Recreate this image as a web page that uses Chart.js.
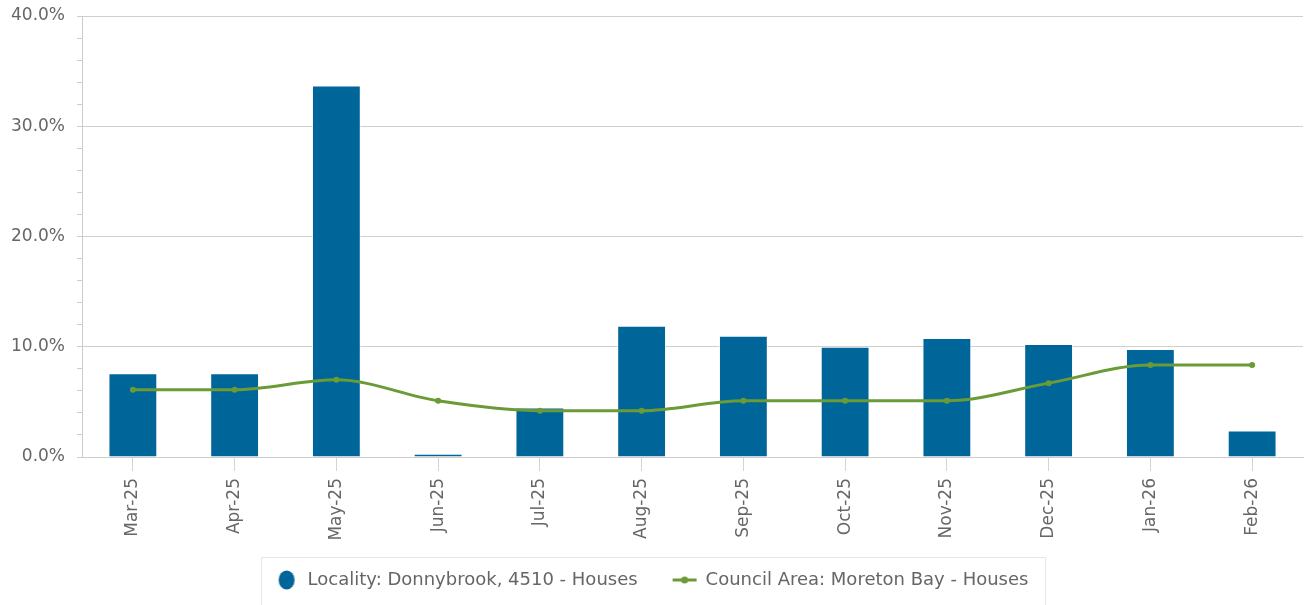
<!DOCTYPE html>
<html>
<head>
<meta charset="utf-8">
<script src="https://cdn.jsdelivr.net/npm/chart.js@4.4.1/dist/chart.umd.min.js"></script>
<style>
html,body{margin:0;padding:0;background:#fff;}
#wrap{width:1306px;height:605px;position:relative;}
</style>
</head>
<body>
<div id="wrap"><canvas id="c" width="1306" height="605"></canvas></div>
<script>
const categories = ["Mar-25","Apr-25","May-25","Jun-25","Jul-25","Aug-25","Sep-25","Oct-25","Nov-25","Dec-25","Jan-26","Feb-26"];
const localityValues = [7.6, 7.6, 33.7, 0.3, 4.5, 11.9, 11.0, 10.0, 10.8, 10.25, 9.8, 2.4];
const councilValues = [6.1, 6.1, 7.0, 5.1, 4.2, 4.2, 5.1, 5.1, 5.1, 6.7, 8.35, 8.35];
const localityLabel = "Locality: Donnybrook, 4510 - Houses";
const councilLabel = "Council Area: Moreton Bay - Houses";
const yTickValues = [0, 10, 20, 30, 40];

const BAR = '#006699';
const GREEN = '#6a9b36';
const FONT = "'DejaVu Sans', sans-serif";

function circleIcon(){
  const c = document.createElement('canvas'); c.width = 20; c.height = 22;
  const x = c.getContext('2d');
  x.fillStyle = BAR; x.beginPath(); x.ellipse(10, 11, 8, 9.5, 0, 0, Math.PI*2); x.fill();
  return c;
}
function lineIcon(){
  const c = document.createElement('canvas'); c.width = 26; c.height = 10;
  const x = c.getContext('2d');
  x.strokeStyle = GREEN; x.lineWidth = 3; x.beginPath(); x.moveTo(1,5); x.lineTo(25,5); x.stroke();
  x.fillStyle = GREEN; x.beginPath(); x.arc(13,5,3.5,0,Math.PI*2); x.fill();
  return c;
}
const icons = [circleIcon(), lineIcon()];

const legendBox = {
  id: 'legendBox',
  afterDraw(chart){
    const lg = chart.legend;
    if(!lg || !lg.legendHitBoxes || !lg.legendHitBoxes.length) return;
    const hb = lg.legendHitBoxes;
    let l = Infinity, r = -Infinity;
    hb.forEach(h => { l = Math.min(l, h.left); r = Math.max(r, h.left + h.width); });
    const ctx = chart.ctx;
    ctx.save();
    ctx.strokeStyle = '#e6e6e6';
    ctx.lineWidth = 1;
    ctx.strokeRect(Math.round(l - 14) + 0.5, 557.5, Math.round(r - l + 30), chart.height);
    ctx.restore();
  }
};

new Chart(document.getElementById('c'), {
  data: {
    labels: categories,
    datasets: [
      {
        type: 'bar', label: localityLabel, data: localityValues,
        backgroundColor: BAR, borderColor: 'rgba(255,255,255,0.7)', borderWidth: 1,
        barPercentage: 0.48, categoryPercentage: 1, order: 2
      },
      {
        type: 'line', label: councilLabel, data: councilValues,
        borderColor: GREEN, backgroundColor: GREEN, borderWidth: 3,
        pointRadius: 3, pointHoverRadius: 3, pointBackgroundColor: GREEN, pointBorderWidth: 0,
        cubicInterpolationMode: 'monotone', order: 1
      }
    ]
  },
  options: {
    responsive: false,
    animation: false,
    events: [],
    layout: { padding: { top: 16, right: 3, left: 0, bottom: 6 } },
    plugins: {
      tooltip: { enabled: false },
      legend: {
        position: 'bottom',
        labels: {
          usePointStyle: true,
          pointStyleWidth: 24,
          padding: 35,
          color: '#666',
          font: { family: FONT, size: 18 },
          generateLabels(chart){
            return chart.data.datasets.map((d, i) => ({
              text: d.label, pointStyle: icons[i], fillStyle: 'transparent', strokeStyle: 'transparent',
              lineWidth: 0, hidden: false, datasetIndex: i, fontColor: '#666'
            }));
          }
        }
      }
    },
    scales: {
      x: {
        offset: true,
        grid: { offset: false, drawOnChartArea: false, drawTicks: true, tickLength: 14, color: '#ccd6eb' },
        border: { color: '#cccccc', width: 1 },
        ticks: { minRotation: 90, maxRotation: 90, autoSkip: false, padding: 7, color: '#666', font: { family: FONT, size: 17 } },
        afterFit(scale){
          scale.height = 79; scale.paddingTop = 0; scale.paddingBottom = 0;
          scale._computeLabelArea = () => undefined;
        }
      },
      y: {
        min: 0, max: 40,
        afterBuildTicks(scale){
          const t = [];
          for(let v = 0; v <= 40; v += 2) t.push({ value: v });
          scale.ticks = t;
        },
        grid: {
          color: ctx => (ctx.tick && yTickValues.includes(ctx.tick.value)) ? '#cfcfcf' : 'rgba(0,0,0,0)',
          tickColor: '#cccccc', tickLength: 5, lineWidth: 1
        },
        border: { color: '#cccccc', width: 1 },
        ticks: {
          autoSkip: false,
          padding: 12, color: '#666', font: { family: FONT, size: 17 },
          callback: v => yTickValues.includes(v) ? v.toFixed(1) + '%' : ''
        },
        afterFit(scale){ scale.width = 82; scale.paddingTop = 0; scale.paddingBottom = 0; }
      }
    }
  },
  plugins: [legendBox]
});
</script>
</body>
</html>
